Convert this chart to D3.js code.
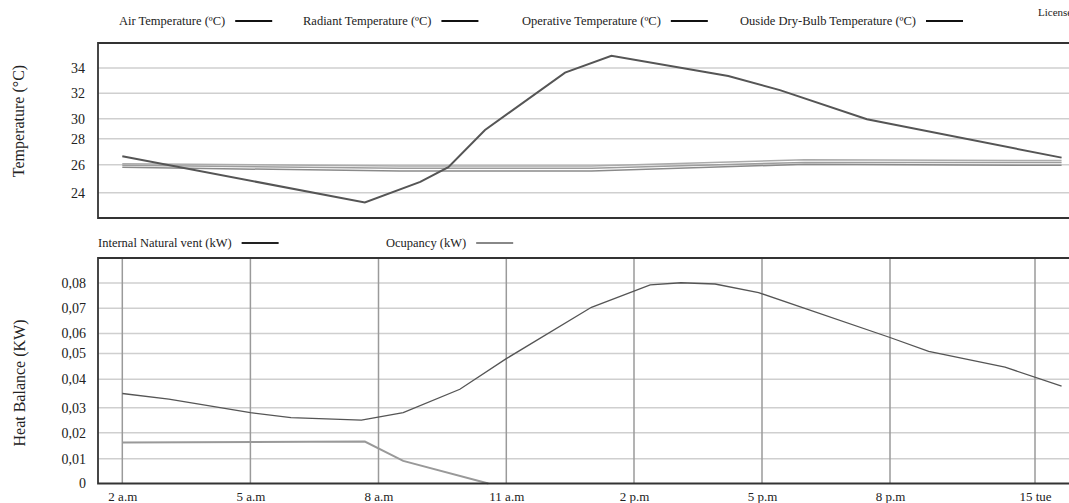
<!DOCTYPE html>
<html>
<head>
<meta charset="utf-8">
<script src="https://cdn.jsdelivr.net/npm/d3@7"></script>
<style>
  body { margin: 0; background: #fff; }
  svg, svg text { font-family: "Liberation Serif", "DejaVu Serif", serif; }
  .tick text { fill: #222; }
</style>
</head>
<body>
<div id="chart"></div>
<script>
// 1. Data:
var xLabels = ["2 a.m", "5 a.m", "8 a.m", "11 a.m", "2 p.m", "5 p.m", "8 p.m", "15 tue"];
var xHours = [2, 5, 8, 11, 14, 17, 20, 23];

var tempTicks = [24, 26, 28, 30, 32, 34];
var heatTicks = [0, 0.01, 0.02, 0.03, 0.04, 0.05, 0.06, 0.07, 0.08];

// outside dry-bulb temperature
var outsideHours = [2, 7.68, 8.98, 9.64, 10.5, 12.38, 13.47, 16.21, 17.42, 19.46, 23.55];
var outsideTemp = [26.65, 23.3, 24.77, 25.83, 28.87, 33.63, 34.97, 33.37, 32.25, 29.94, 26.55];

// indoor temperatures (almost flat)
var indoorHours = [2, 8.5, 13, 18, 23.55];
var airTemp = [26.08, 25.92, 25.92, 26.38, 26.33];
var radiantTemp = [25.97, 25.75, 25.75, 26.18, 26.17];
var operativeTemp = [25.82, 25.55, 25.55, 26.04, 25.96];

// heat balance
var ventHours = [2, 3.09, 5, 5.95, 7.6, 8.58, 9.91, 11, 13, 14.38, 15.1, 15.9, 16.92, 20, 20.8, 22.38, 23.55];
var ventKw = [0.035, 0.033, 0.028, 0.026, 0.025, 0.028, 0.0365, 0.048, 0.0704, 0.0793, 0.0801, 0.0796, 0.0762, 0.058, 0.0511, 0.0447, 0.0376];
var occHours = [2, 7.68, 8.58, 10.58];
var occKw = [0.0162, 0.0166, 0.0091, 0];

// 2. SVG:
var svgWidth = 1069;
var svgHeight = 503;
var svg = d3.select("#chart").append("svg")
    .attr("width", svgWidth)
    .attr("height", svgHeight);

var left = 98;
var right = 1069;
var top1 = 43, bottom1 = 218;
var top2 = 258, bottom2 = 483.5;
var serif = "Liberation Serif, DejaVu Serif, serif";

// 3. Scales (the source image is unevenly stretched, so piecewise ranges):
var x = d3.scaleLinear()
    .domain(xHours)
    .range([122.3, 250.4, 378.5, 506.3, 634, 762, 890, 1035]);

var yTemp = d3.scaleLinear()
    .domain(tempTicks)
    .range([192.7, 164.8, 138.7, 118.7, 93.3, 68]);

var yHeat = d3.scaleLinear()
    .domain(heatTicks)
    .range([bottom2, 458.7, 432.7, 407.7, 379.3, 353.5, 333.5, 308.3, 283]);

// 4. Top panel gridlines + ticks:
var g1 = svg.append("g");
g1.selectAll(".hgrid").data(tempTicks).enter().append("line")
    .attr("x1", left).attr("x2", right)
    .attr("y1", d => yTemp(d)).attr("y2", d => yTemp(d))
    .attr("stroke", "#cfcfcf").attr("stroke-width", 1.5);

var leftAxis1 = d3.axisLeft(yTemp).tickValues(tempTicks).tickSize(0).tickPadding(13);
g1.append("g")
    .attr("transform", `translate(${left},0)`)
    .call(leftAxis1)
    .attr("font-family", serif)
    .attr("font-size", 14)
    .call(g => g.select(".domain").remove());

// 5. Bottom panel gridlines + ticks:
var g2 = svg.append("g");
g2.selectAll(".hgrid").data(heatTicks.slice(1)).enter().append("line")
    .attr("x1", left).attr("x2", right)
    .attr("y1", d => yHeat(d)).attr("y2", d => yHeat(d))
    .attr("stroke", "#cfcfcf").attr("stroke-width", 1.5);

g2.selectAll(".vgrid").data(xHours).enter().append("line")
    .attr("x1", d => x(d)).attr("x2", d => x(d))
    .attr("y1", top2).attr("y2", bottom2)
    .attr("stroke", "#9a9a9a").attr("stroke-width", 1.5);

var leftAxis2 = d3.axisLeft(yHeat).tickValues(heatTicks).tickSize(0).tickPadding(12)
    .tickFormat(d => d === 0 ? "0" : d3.format(".2f")(d).replace(".", ","));
g2.append("g")
    .attr("transform", `translate(${left},0)`)
    .call(leftAxis2)
    .attr("font-family", serif)
    .attr("font-size", 14)
    .call(g => g.select(".domain").remove());

var bottomAxis = d3.axisBottom(x).tickValues(xHours).tickSize(0).tickPadding(8)
    .tickFormat((d, i) => xLabels[i]);
g2.append("g")
    .attr("transform", `translate(0,${bottom2})`)
    .call(bottomAxis)
    .attr("font-family", serif)
    .attr("font-size", 13)
    .call(g => g.select(".domain").remove());

// 6. Lines:
var tempLine = d3.line().x(d => x(d[0])).y(d => yTemp(d[1]));
var heatLine = d3.line().x(d => x(d[0])).y(d => yHeat(d[1]));

var indoor = [
  { vals: operativeTemp, color: "#8a8a8a" },
  { vals: radiantTemp, color: "#9d9d9d" },
  { vals: airTemp, color: "#ababab" }
];
indoor.forEach(function(s) {
  g1.append("path")
      .datum(d3.zip(indoorHours, s.vals))
      .attr("fill", "none")
      .attr("stroke", s.color)
      .attr("stroke-width", 1.5)
      .attr("d", tempLine);
});

g1.append("path")
    .datum(d3.zip(outsideHours, outsideTemp))
    .attr("fill", "none")
    .attr("stroke", "#555")
    .attr("stroke-width", 2)
    .attr("d", tempLine);

g2.append("path")
    .datum(d3.zip(occHours, occKw))
    .attr("fill", "none")
    .attr("stroke", "#999")
    .attr("stroke-width", 2)
    .attr("d", heatLine);

g2.append("path")
    .datum(d3.zip(ventHours, ventKw))
    .attr("fill", "none")
    .attr("stroke", "#555")
    .attr("stroke-width", 1.3)
    .attr("d", heatLine);

// 7. Panel borders:
g1.append("path")
    .attr("d", `M${right},${top1}H${left}V${bottom1}H${right}`)
    .attr("fill", "none").attr("stroke", "#333").attr("stroke-width", 1.8);
g2.append("path")
    .attr("d", `M${right},${top2}H${left}V${bottom2}H${right}`)
    .attr("fill", "none").attr("stroke", "#333").attr("stroke-width", 1.8);

// 8. Legends:
function legend(items, y) {
  items.forEach(function(it) {
    var t = svg.append("text")
        .attr("x", it.x).attr("y", y + 4)
        .attr("font-size", "12.5px").attr("fill", "#222")
        .text(it.label);
    var w = t.node().getComputedTextLength();
    svg.append("line")
        .attr("x1", it.x + w + 10).attr("x2", it.x + w + 47)
        .attr("y1", y).attr("y2", y)
        .attr("stroke", it.color).attr("stroke-width", 2);
  });
}
legend([
  { label: "Air Temperature (ºC)", x: 119, color: "#111" },
  { label: "Radiant Temperature (ºC)", x: 303, color: "#111" },
  { label: "Operative Temperature (ºC)", x: 522, color: "#111" },
  { label: "Ouside Dry-Bulb Temperature (ºC)", x: 740, color: "#111" }
], 21);
legend([
  { label: "Internal Natural vent (kW)", x: 98, color: "#222" },
  { label: "Ocupancy (kW)", x: 386, color: "#888" }
], 243);

svg.append("text")
    .attr("x", 1038).attr("y", 16)
    .attr("font-size", "11px").attr("fill", "#222")
    .text("License");

// 9. Axis titles:
svg.append("text")
    .attr("transform", "translate(24,121) rotate(-90)")
    .attr("text-anchor", "middle")
    .attr("font-size", "16px").attr("fill", "#222")
    .text("Temperature (°C)");
svg.append("text")
    .attr("transform", "translate(25,383) rotate(-90)")
    .attr("text-anchor", "middle")
    .attr("font-size", "16px").attr("fill", "#222")
    .text("Heat Balance (KW)");
</script>
</body>
</html>
